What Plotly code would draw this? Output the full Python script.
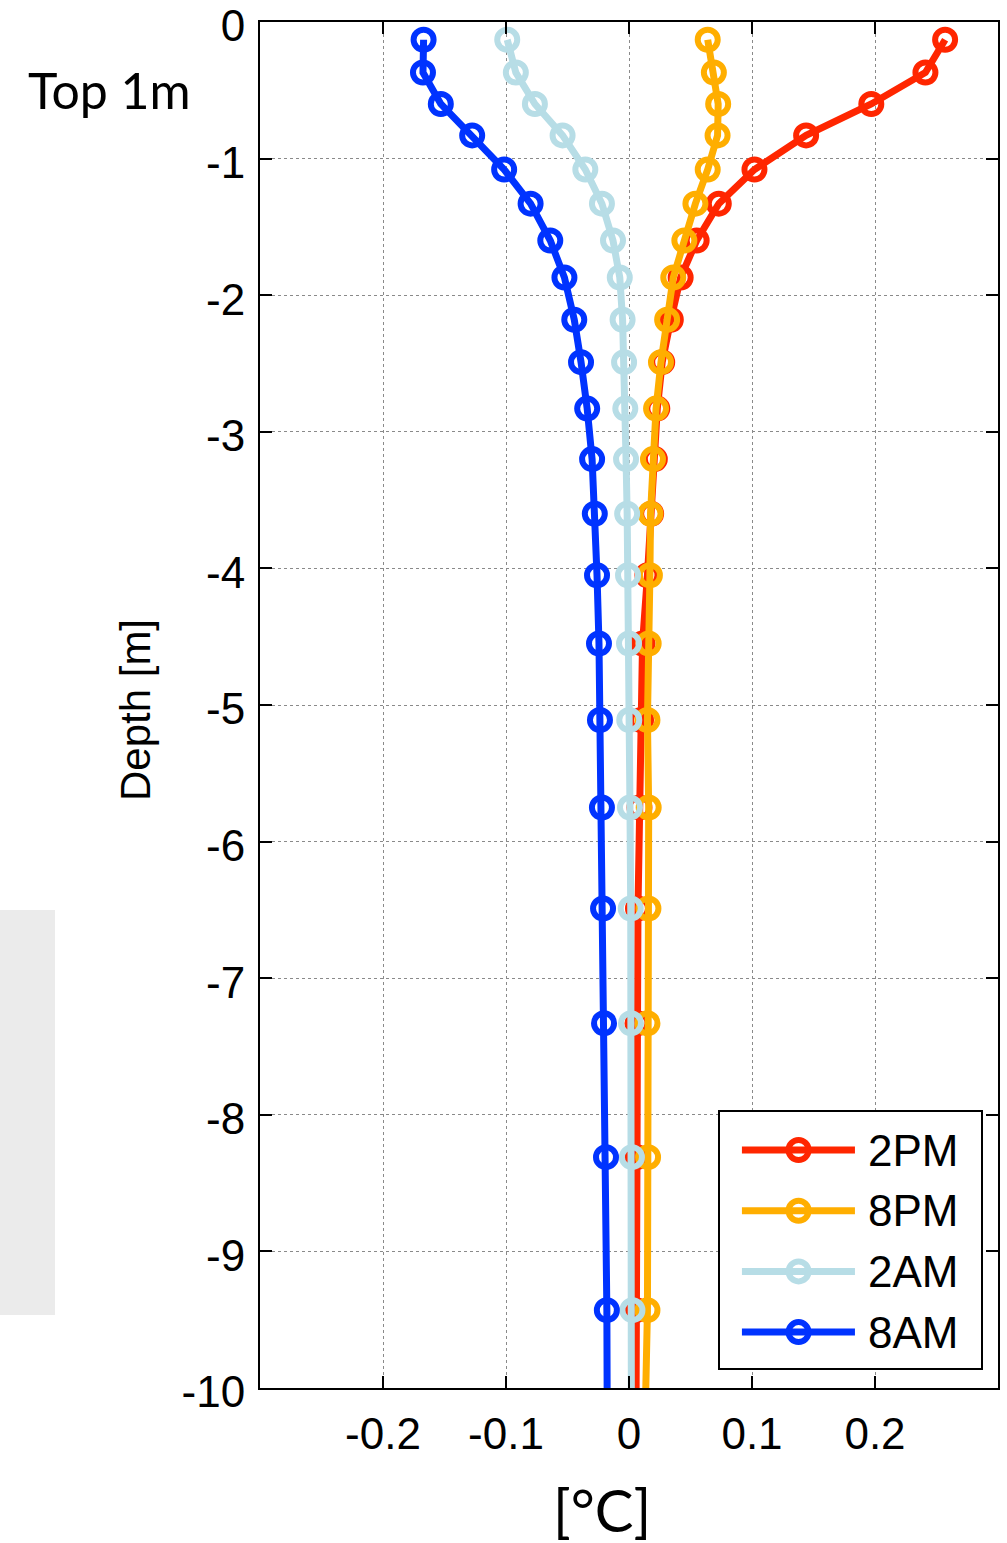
import plotly.graph_objects as go

# Depth of each model layer (m, negative downward)
depth = [-0.13, -0.37, -0.60, -0.83, -1.08, -1.33, -1.60, -1.87, -2.18, -2.49,
         -2.83, -3.20, -3.60, -4.05, -4.55, -5.11, -5.75, -6.49, -7.33, -8.31,
         -9.43, -10.70]

# Temperature anomaly profiles (deg C) at four times of day
t_2pm = [0.257, 0.241, 0.197, 0.144, 0.102, 0.073, 0.055, 0.042, 0.034, 0.027,
         0.023, 0.021, 0.018, 0.015, 0.011, 0.0098, 0.0085, 0.0073, 0.0069, 0.0065,
         0.006, 0.0055]
t_8pm = [0.064, 0.069, 0.0725, 0.072, 0.064, 0.054, 0.045, 0.036, 0.031, 0.026,
         0.022, 0.0195, 0.0175, 0.017, 0.016, 0.015, 0.016, 0.0158, 0.015, 0.0155,
         0.015, 0.012]
t_2am = [-0.099, -0.092, -0.0765, -0.054, -0.0355, -0.022, -0.013, -0.0075, -0.0052, -0.004,
         -0.003, -0.0024, -0.0015, -0.0008, 0.0, 0.0002, 0.0008, 0.0014, 0.0016, 0.0024,
         0.0028, 0.002]
t_8am = [-0.167, -0.1675, -0.153, -0.1275, -0.1015, -0.080, -0.064, -0.0525, -0.0445, -0.039,
         -0.034, -0.030, -0.0278, -0.026, -0.0244, -0.0236, -0.022, -0.0211, -0.0203, -0.0187,
         -0.018, -0.0175]

series_names = ["2PM", "8PM", "2AM", "8AM"]
series_values = [t_2pm, t_8pm, t_2am, t_8am]
series_colors = ["#ff2600", "#ffae00", "#b7dde6", "#0033ff"]

x_ticks = [-0.2, -0.1, 0, 0.1, 0.2]
x_tick_labels = ["-0.2", "-0.1", "0", "0.1", "0.2"]
y_ticks = [0, -1, -2, -3, -4, -5, -6, -7, -8, -9, -10]
y_tick_labels = ["0", "-1", "-2", "-3", "-4", "-5", "-6", "-7", "-8", "-9", "-10"]

TICK_FONT = dict(family="Liberation Sans, Arial, sans-serif", size=44, color="black")
LINE_W = 7
MARKER = dict(symbol="circle-open", size=20, line=dict(width=6))

fig = go.Figure()

for name, vals, col in zip(series_names, series_values, series_colors):
    fig.add_trace(go.Scatter(
        x=vals, y=depth, mode="lines+markers", name=name,
        line=dict(color=col, width=LINE_W),
        marker=dict(color=col, **MARKER),
        showlegend=False, cliponaxis=True,
    ))

# Key drawn in a small inset axes box, one row per series
n = len(series_names)
for i, (name, col) in enumerate(zip(series_names, series_colors)):
    row = n - 1 - i
    fig.add_trace(go.Scatter(
        x=[0.084, 0.517], y=[row, row], mode="lines",
        line=dict(color=col, width=LINE_W),
        xaxis="x2", yaxis="y2", showlegend=False, hoverinfo="skip",
    ))
    fig.add_trace(go.Scatter(
        x=[0.301], y=[row], mode="markers",
        marker=dict(color=col, **MARKER),
        xaxis="x2", yaxis="y2", showlegend=False, hoverinfo="skip",
    ))
    fig.add_annotation(
        x=0.56, y=row, xref="x2", yref="y2", text=name, showarrow=False,
        xanchor="left", yanchor="middle",
        font=dict(family="Liberation Sans, Arial, sans-serif", size=44, color="black"),
    )

grid = dict(showgrid=True, gridcolor="#8a8a8a", gridwidth=1, griddash="dot")
axis_common = dict(
    showline=True, linecolor="black", linewidth=2, mirror="ticks",
    ticks="inside", ticklen=12, tickwidth=1.5, tickcolor="black",
    tickfont=TICK_FONT, zeroline=False, ticklabeloverflow="allow",
    automargin=False,
)

fig.update_layout(
    width=1007, height=1543,
    margin=dict(l=260, r=9, t=22, b=155),
    paper_bgcolor="white", plot_bgcolor="white",
    xaxis=dict(range=[-0.3, 0.3], tickvals=x_ticks, ticktext=x_tick_labels,
               ticklabelstandoff=6, **grid, **axis_common),
    yaxis=dict(range=[-10, 0], tickvals=y_ticks, ticktext=y_tick_labels,
               ticklabelstandoff=4, ticklabelshift=4, **grid, **axis_common),
    xaxis2=dict(domain=[0.6233, 0.977], anchor="y2", range=[0, 1],
                showgrid=False, zeroline=False, showticklabels=False, ticks="",
                showline=True, linecolor="black", linewidth=2, mirror=True,
                automargin=False),
    yaxis2=dict(domain=[0.0146, 0.2020], anchor="x2", range=[-0.593, 3.626],
                showgrid=False, zeroline=False, showticklabels=False, ticks="",
                showline=True, linecolor="black", linewidth=2, mirror=True,
                automargin=False),
    showlegend=False,
    shapes=[dict(type="rect", xref="paper", yref="paper",
                 x0=-0.3523, x1=-0.2778, y0=0.0534, y1=0.3499,
                 fillcolor="#ebebeb", line=dict(width=0), layer="below")],
)

# Key background (white box behind the inset axes)
fig.add_shape(type="rect", xref="x2 domain", yref="y2 domain", x0=0, x1=1, y0=0, y1=1,
              fillcolor="white", line=dict(width=0), layer="below")

fig.add_annotation(
    x=-0.2046, y=0.9500, xref="paper", yref="paper", text="Top 1m", showarrow=False,
    xanchor="center", yanchor="middle",
    font=dict(family="Lato, sans-serif", size=50, color="black"),
)
fig.add_annotation(
    x=-0.1694, y=0.4963, xref="paper", yref="paper", text="Depth [m]", showarrow=False,
    textangle=-90, xanchor="center", yanchor="middle",
    font=dict(family="Liberation Sans, Arial, sans-serif", size=42, color="black"),
)
fig.add_annotation(
    x=0.4634, y=-0.0893, xref="paper", yref="paper", text="[°C]", showarrow=False,
    xanchor="center", yanchor="middle",
    font=dict(family="Lato, sans-serif", size=58, color="black"),
)

fig.write_html("out.html")
